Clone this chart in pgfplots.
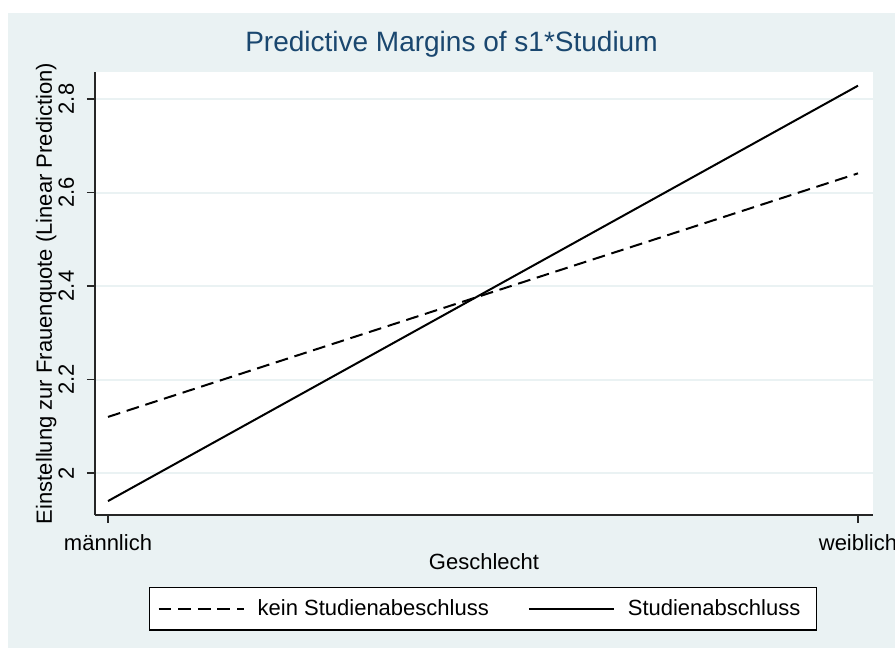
\documentclass[border=0pt]{standalone}
\usepackage{pgfplots}
\pgfplotsset{compat=1.18}
\usepackage{fontspec}
\setmainfont{Liberation Sans}
\definecolor{bgc}{HTML}{EAF2F3}
\definecolor{titlec}{HTML}{1A476F}
\begin{document}
\begin{tikzpicture}[x=1pt,y=1pt]
\path[use as bounding box] (0,0) rectangle (447.5,324);
\fill[bgc] (4,0) rectangle (447.5,317.5);
\begin{axis}[
  at={(47.5pt,66.5pt)}, anchor=south west,
  scale only axis, width=389pt, height=221.5pt,
  xmin=-0.017333, xmax=1.02, ymin=1.9102, ymax=2.8578,
  axis x line*=bottom, axis y line*=left,
  axis line style={line width=0.75pt, black!85, -},
  axis background/.style={fill=white},
  xtick={0,1}, xticklabels={männlich,weiblich},
  ytick={2,2.2,2.4,2.6,2.8},
  yticklabels={2,2.2,2.4,2.6,2.8},
  tick align=outside, major tick length=4pt,
  tick style={line width=0.75pt, black!85},
  ymajorgrids, grid style={bgc, line width=1pt},
  /pgf/number format/assume math mode=true,
  tick label style={font=\fontsize{11}{13}\selectfont, inner sep=0pt},
  yticklabel style={xshift=-6.5pt, rotate=90, anchor=base},
  xticklabel style={yshift=-14pt, anchor=base},
  title={Predictive Margins of s1*Studium},
  title style={at={(axis description cs:0.4582,1.0203)}, anchor=base,
    font=\fontsize{14}{16}\selectfont, color=titlec, inner sep=0pt},
  xlabel={Geschlecht},
  xlabel style={at={(axis description cs:0.5,-0.1219)}, anchor=base,
    font=\fontsize{11}{13}\selectfont, inner sep=0pt},
  ylabel={Einstellung zur Frauenquote (Linear Prediction)},
  ylabel style={at={(axis description cs:-0.0553,0.5)}, anchor=base,
    font=\fontsize{11}{13}\selectfont, inner sep=0pt},
  legend columns=2,
  legend style={at={(axis description cs:0.4987,-0.2117)}, anchor=center,
    draw=black, line width=0.75pt, fill=white,
    inner xsep=4.1pt, inner ysep=5.8pt,
    font=\fontsize{11}{13}\selectfont,
    nodes={inner sep=0pt},
    /tikz/every odd column/.append style={column sep=6.5pt},
    /tikz/every even column/.append style={column sep=19.5pt}},
  legend image code/.code={\draw[#1, line width=1pt] (0pt,0pt) -- (42.5pt,0pt);},
]
\addplot[black, line width=1pt, dash pattern=on 6.4pt off 3.4pt] coordinates {(0,2.120) (1,2.641)};
\addlegendentry{kein Studienabeschluss}
\addplot[black, line width=1pt] coordinates {(0,1.940) (1,2.8285)};
\addlegendentry{Studienabschluss\rule{4pt}{0pt}}
\end{axis}
\end{tikzpicture}
\end{document}
